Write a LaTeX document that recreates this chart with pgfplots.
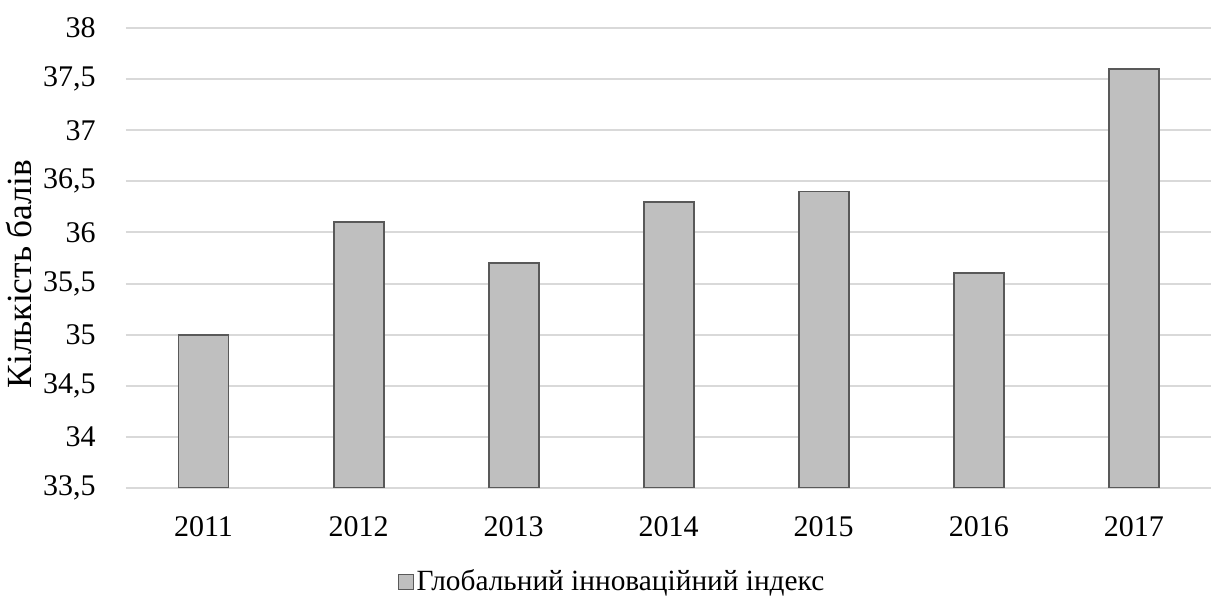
\documentclass[border=0pt]{standalone}
\usepackage{pgfplots}
\pgfplotsset{compat=1.18}
\usepackage{fontspec}
\setmainfont{Liberation Serif}
\definecolor{barfill}{HTML}{BFBFBF}
\definecolor{baredge}{HTML}{595959}
\definecolor{gridc}{HTML}{D9D9D9}
\begin{document}
\fontsize{22.5}{27}\selectfont
\begin{tikzpicture}
\useasboundingbox (-94.5pt,-81pt) rectangle (816pt,366pt);
\begin{axis}[
  at={(0,0)}, anchor=south west,
  scale only axis, width=814pt, height=345pt,
  ymin=33.5, ymax=38,
  ytick={33.5,34,34.5,35,35.5,36,36.5,37,37.5,38},
  xmin=-0.5, xmax=6.5,
  xtick={0,1,2,3,4,5,6},
  xticklabels={2011,2012,2013,2014,2015,2016,2017},
  ybar, bar width=37.5pt,
  axis line style={draw=none},
  major tick length=0pt,
  ymajorgrids, grid style={draw=gridc, line width=1.5pt},
  /pgf/number format/assume math mode=true,
  /pgf/number format/use comma,
  yticklabel style={anchor=east, xshift=-15pt},
  xticklabel style={anchor=north, yshift=-14pt},
  ticklabel style={font=\fontsize{22.5}{27}\selectfont},
  every axis y label/.style={at={(axis description cs:-0.099,0.465)}, rotate=90, anchor=center, font=\fontsize{26.5}{30}\selectfont},
  ylabel={Кількість балів},
  legend style={at={(axis description cs:0.448,-0.205)}, anchor=center, draw=none, fill=none, font=\fontsize{22}{26}\selectfont, inner sep=0pt, nodes={inner sep=2pt}},
  legend image code/.code={\draw[fill=barfill, draw=baredge, line width=0.8pt] (0pt,-5.5pt) rectangle (11.5pt,6pt);},
]
\addplot[fill=barfill, draw=baredge, line width=1.4pt] coordinates {
  (0,35.0) (1,36.1) (2,35.7) (3,36.3) (4,36.4) (5,35.6) (6,37.6)
};
\addlegendentry{Глобальний інноваційний індекс}
\end{axis}
\end{tikzpicture}
\end{document}
